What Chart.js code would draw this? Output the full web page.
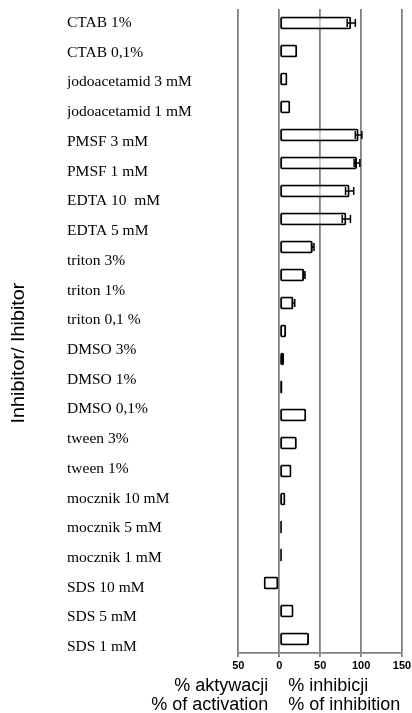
<!DOCTYPE html>
<html>
<head>
<meta charset="utf-8">
<script src="https://cdn.jsdelivr.net/npm/chart.js@4.4.0/dist/chart.umd.min.js"></script>
<style>
  html, body { margin: 0; padding: 0; background: #fff; }
  #wrap { width: 412px; height: 713px; position: relative; }
</style>
</head>
<body>
<div id="wrap"><canvas id="c"></canvas></div>
<script>
// Row names printed down the left side
const labels = [
  'CTAB 1%', 'CTAB 0,1%', 'jodoacetamid 3 mM', 'jodoacetamid 1 mM',
  'PMSF 3 mM', 'PMSF 1 mM', 'EDTA 10  mM', 'EDTA 5 mM',
  'triton 3%', 'triton 1%', 'triton 0,1 %', 'DMSO 3%', 'DMSO 1%', 'DMSO 0,1%',
  'tween 3%', 'tween 1%', 'mocznik 10 mM', 'mocznik 5 mM', 'mocznik 1 mM',
  'SDS 10 mM', 'SDS 5 mM', 'SDS 1 mM'
];

// One key per bar (the plot holds one more bar than printed names)
const rowKeys = [
  'CTAB 1%', 'CTAB 0,1%', 'jodoacetamid 3 mM', 'jodoacetamid 1 mM',
  'PMSF 3 mM', 'PMSF 1 mM', 'EDTA 10 mM', 'EDTA 5 mM',
  'triton 3%', 'triton 1%', 'triton 0,1 %', 'DMSO 3%', '(bez opisu)', 'DMSO 1%', 'DMSO 0,1%',
  'tween 3%', 'tween 1%', 'mocznik 10 mM', 'mocznik 5 mM', 'mocznik 1 mM',
  'SDS 10 mM', 'SDS 5 mM', 'SDS 1 mM'
];

// % inhibition (negative = % activation)
const values = [
  88, 22, 10, 13.5,
  97, 95, 86, 82,
  41, 30.5, 17.5, 8.5, 6, 4, 33,
  21.5, 15, 7.5, 3.3, 3.3,
  -19, 17.5, 36.5
];

// standard deviation per bar
const errors = [
  5, 0, 0, 0,
  4, 3.5, 5, 5,
  1.5, 1, 1.5, 0, 0, 0, 0,
  0, 0, 0, 0, 0,
  0, 0, 0
];

const xTicks = [-50, 0, 50, 100, 150];
const activationTitle = ['% aktywacji', '% of activation'];
const inhibitionTitle = ['% inhibicji', '% of inhibition'];
const yTitle = 'Inhibitor/ Ihibitor';

const SANS = '"Liberation Sans", Arial, sans-serif';

// whiskers drawn through the x scale
const errorBars = {
  id: 'errorBars',
  afterDatasetsDraw(chart) {
    const meta = chart.getDatasetMeta(0);
    const xs = chart.scales.x;
    const ctx = chart.ctx;
    ctx.save();
    ctx.strokeStyle = '#000';
    ctx.lineWidth = 1.5;
    meta.data.forEach((bar, i) => {
      const e = errors[i];
      if (!e) return;
      const v = values[i];
      const x1 = xs.getPixelForValue(v - e);
      const x2 = xs.getPixelForValue(v + e);
      const y = bar.y;
      const h = 4;
      ctx.beginPath();
      ctx.moveTo(x1, y); ctx.lineTo(x2, y);
      ctx.moveTo(x1, y - h); ctx.lineTo(x1, y + h);
      ctx.moveTo(x2, y - h); ctx.lineTo(x2, y + h);
      ctx.stroke();
    });
    ctx.restore();
  }
};

// two-column x title split at zero, plus the rotated y title
const axisTitles = {
  id: 'axisTitles',
  afterDraw(chart) {
    const ctx = chart.ctx;
    const x0 = chart.scales.x.getPixelForValue(0);
    const bottom = chart.chartArea.bottom;
    const base = [bottom + 38, bottom + 57];
    ctx.save();
    ctx.fillStyle = '#000';
    ctx.font = '18px ' + SANS;
    ctx.textBaseline = 'alphabetic';
    ctx.textAlign = 'right';
    activationTitle.forEach((t, i) => ctx.fillText(t, x0 - 11, base[i]));
    ctx.textAlign = 'left';
    inhibitionTitle.forEach((t, i) => ctx.fillText(t, x0 + 9, base[i]));

    ctx.translate(24, 353);
    ctx.rotate(-Math.PI / 2);
    ctx.scale(1.1, 1);
    ctx.textAlign = 'center';
    ctx.fillText(yTitle, 0, 0);
    ctx.restore();
  }
};

new Chart(document.getElementById('c'), {
  type: 'bar',
  data: {
    labels: rowKeys,
    datasets: [{
      data: values,
      xAxisID: 'x',
      yAxisID: 'y',
      backgroundColor: 'rgba(255,255,255,0.55)',
      borderColor: '#000',
      borderWidth: 2,
      borderSkipped: false,
      borderRadius: 2,
      barPercentage: 0.47,
      categoryPercentage: 1
    }]
  },
  options: {
    indexAxis: 'y',
    responsive: true,
    maintainAspectRatio: false,
    animation: false,
    layout: { padding: { left: 67, right: 10, top: 9, bottom: 0 } },
    plugins: { legend: { display: false }, tooltip: { enabled: false } },
    scales: {
      x: {
        type: 'linear',
        min: -50,
        max: 150,
        afterBuildTicks(s) { s.ticks = xTicks.map(v => ({ value: v })); },
        afterFit(s) { s.height = 60; s.paddingLeft = 0; s.paddingRight = 0; },
        ticks: {
          callback: v => Math.abs(v),
          color: '#000',
          padding: 2,
          maxRotation: 0,
          font: { family: '"Liberation Sans Narrow", "Liberation Sans", Arial, sans-serif', size: 11, weight: 'bold' }
        },
        grid: { color: '#808080', lineWidth: 1.8, tickLength: 4 },
        border: { color: '#808080', width: 1.8 }
      },
      y: { type: 'category', display: false, offset: true },
      yl: {
        type: 'linear',
        position: 'left',
        reverse: true,
        offset: false,
        min: -0.47,
        max: 21.2,
        afterBuildTicks(s) { s.ticks = labels.map((_, i) => ({ value: i })); },
        afterFit(s) { s.width = 171.3; s.paddingTop = 0; s.paddingBottom = 0; },
        ticks: {
          autoSkip: false,
          crossAlign: 'far',
          color: '#000',
          callback: v => labels[v],
          font: { family: '"Liberation Serif", "Times New Roman", serif', size: 15.5 }
        },
        grid: { display: false, offset: false },
        border: { display: false }
      }
    }
  },
  plugins: [errorBars, axisTitles]
});
</script>
</body>
</html>
